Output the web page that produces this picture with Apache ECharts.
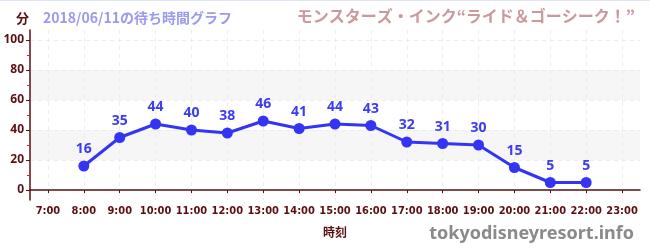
<!DOCTYPE html>
<html>
<head>
<meta charset="utf-8">
<script src="https://cdn.jsdelivr.net/npm/echarts@6/dist/echarts.min.js"></script>
<style>
  html, body { margin: 0; padding: 0; background: #fff; }
  #chart { width: 650px; height: 250px; }
</style>
</head>
<body>
<div id="chart"></div>
<script>
const hours = [8, 9, 10, 11, 12, 13, 14, 15, 16, 17, 18, 19, 20, 21, 22];
const waits = [16, 35, 44, 40, 38, 46, 41, 44, 43, 32, 31, 30, 15, 5, 5];
const hourTicks = [7, 8, 9, 10, 11, 12, 13, 14, 15, 16, 17, 18, 19, 20, 21, 22, 23];
const yTicks = [0, 20, 40, 60, 80, 100];
const yMinorTicks = [10, 30, 50, 70, 90];

const axisColor = '#5a0f12';
const jp = '"Noto Sans CJK JP", "Noto Sans", sans-serif';

const myChart = echarts.init(document.getElementById('chart'));
const option = {
    animation: false,
    textStyle: { fontFamily: jp },
    title: [
        {
            text: '分', left: 11, top: 7,
            textStyle: { fontSize: 13, fontWeight: 'bold', color: axisColor, fontFamily: jp }
        },
        {
            text: '2018/06/11の待ち時間グラフ', left: 38, top: 6,
            textStyle: { fontSize: 14, fontWeight: 'bold', color: '#9a9af0', fontFamily: jp }
        },
        {
            text: 'モンスターズ・インク“ライド＆ゴーシーク！”', right: 10, top: 3,
            textStyle: { fontSize: 16, fontWeight: 'bold', color: '#c99a9c', fontFamily: jp }
        },
        {
            text: 'tokyodisneyresort.info', right: 11, top: 220,
            textStyle: { fontSize: 18, fontWeight: 'bold', color: '#8a8a8a', fontFamily: '"Noto Sans", sans-serif' }
        }
    ],
    graphic: [{
        type: 'rect', left: 0, top: 0,
        shape: { width: 650, height: 1 },
        style: { fill: '#e4e4f8' }
    }],
    grid: { left: 30, right: 10, top: 30, bottom: 50 },
    xAxis: {
        type: 'value',
        min: 6.5,
        max: 23.5,
        name: '時刻',
        nameLocation: 'middle',
        nameGap: 26,
        nameTextStyle: { fontSize: 12, fontWeight: 'bold', color: axisColor },
        axisLine: { lineStyle: { color: axisColor, width: 1.5 } },
        axisTick: { customValues: hourTicks, length: 3, lineStyle: { color: axisColor } },
        axisLabel: {
            customValues: hourTicks,
            formatter: v => v + ':00',
            fontSize: 11, fontWeight: 'bold', color: axisColor, margin: 6,
            fontFamily: '"Liberation Sans Narrow", "DejaVu Sans Condensed", sans-serif'
        },
        splitLine: { show: true, lineStyle: { color: '#ececec', type: [4, 4] } }
    },
    yAxis: [
        {
            type: 'value',
            min: -20 / 3,
            max: 320 / 3,
            axisLine: { show: true, lineStyle: { color: axisColor, width: 1.5 } },
            axisTick: { show: true, customValues: yTicks, length: 4, lineStyle: { color: axisColor } },
            axisLabel: {
                customValues: yTicks, fontSize: 12, fontWeight: 'bold', color: axisColor, margin: 6,
                fontFamily: '"Noto Sans", sans-serif'
            },
            splitLine: { show: true, lineStyle: { color: '#ececec', type: [4, 4] } },
            splitArea: { show: true, areaStyle: { color: ['rgba(255,255,255,0)', '#f6f6f6'] } }
        },
        {
            type: 'value',
            min: -20 / 3,
            max: 320 / 3,
            position: 'left',
            axisLine: { show: false },
            axisTick: { show: true, customValues: yMinorTicks, length: 3, lineStyle: { color: '#dd2222' } },
            axisLabel: { show: false },
            splitLine: { show: false }
        }
    ],
    series: [{
        type: 'line',
        data: hours.map((h, i) => [h, waits[i]]),
        symbol: 'circle',
        symbolSize: 11,
        itemStyle: { color: '#3434f5' },
        lineStyle: { color: '#3434f5', width: 3 },
        label: {
            show: true, position: 'top', distance: 4,
            fontSize: 14, fontWeight: 'bold', color: '#3c3cf0',
            fontFamily: '"Noto Sans", sans-serif'
        }
    }]
};
option && myChart.setOption(option);
</script>
</body>
</html>
